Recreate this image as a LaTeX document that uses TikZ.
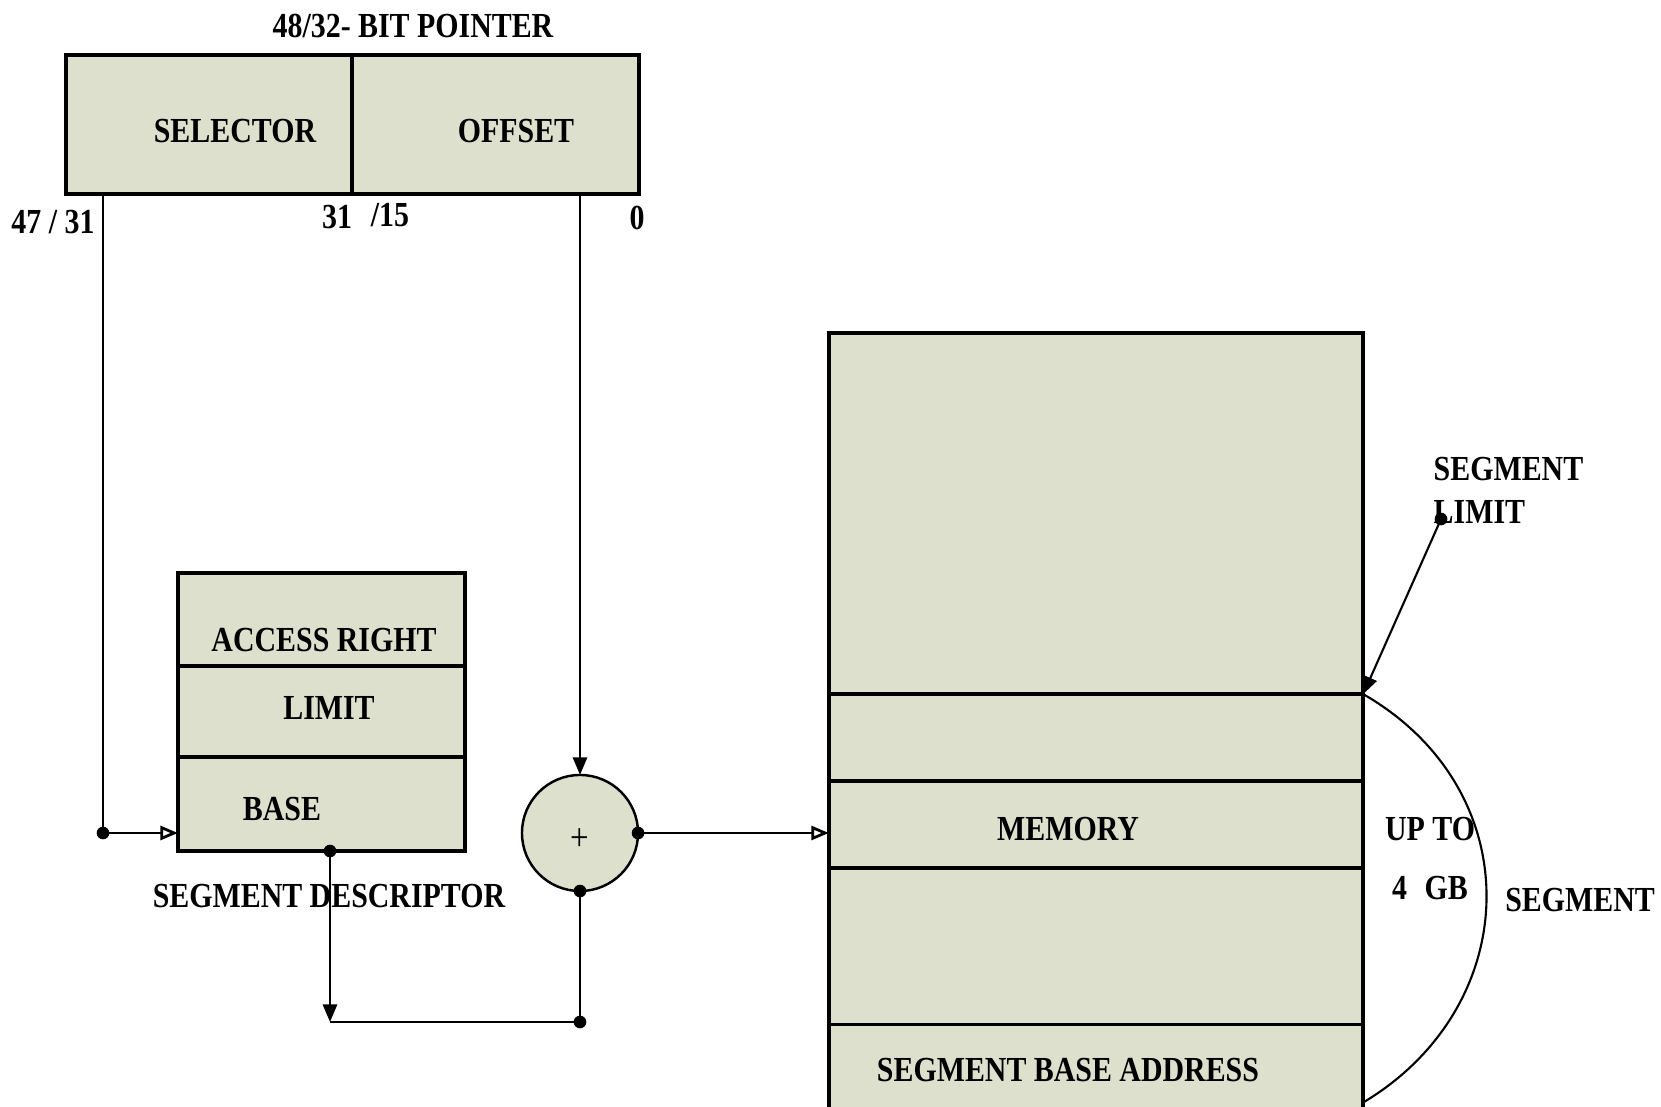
\documentclass[tikz,border=0pt]{standalone}
\usepackage{fontspec}
\setmainfont{Liberation Serif}[FakeStretch=0.85]
\usepackage{tikz}
\usetikzlibrary{arrows.meta, positioning}
\definecolor{boxfill}{RGB}{221,224,204}
\tikzstyle{field} = [rectangle, draw=black, fill=boxfill, line width=1pt,
 inner sep=0pt, outer sep=0pt, minimum width=2.87cm]
\tikzstyle{memfield} = [field, minimum width=5.34cm]
\tikzstyle{adder} = [circle, draw=black, fill=boxfill, line width=0.7pt,
 minimum size=1.16cm, inner sep=0pt, outer sep=0pt]
\tikzstyle{txt} = [font=\bfseries\fontsize{10}{12.2}\selectfont, inner sep=0pt]
\tikzstyle{wire} = [line width=0.8pt]
\tikzstyle{thinwire} = [line width=0.6pt]
\tikzstyle{arrow} = [wire, -{Triangle[length=5pt,width=4pt]}]
\tikzstyle{openarrow} = [wire, -{Triangle[open,length=5pt,width=4pt]}]
\tikzstyle{junction} = [circle, fill=black, inner sep=0pt, minimum size=3.6pt]

\begin{document}
\begin{tikzpicture}[x=0.01cm, y=-0.01cm]
\useasboundingbox (0,0) rectangle (1661,1107);
\clip (0,0) rectangle (1661,1107);

% pointer
\node(title) [txt] at (413,26) {48/32- BIT POINTER};
\node(selector) [field, minimum width=2.86cm, minimum height=1.39cm] at (209,124.5) {};
\node(offset) [field, minimum height=1.39cm] at (495.5,124.5) {};
\node(sel_lbl) [txt] at (235,131) {SELECTOR};
\node(off_lbl) [txt] at (516,131) {OFFSET};
\node(bit47) [txt] at (53,222) {47 / 31};
\node(bit31) [txt] at (337,217) {31};
\node(bit15) [txt] at (390,215) {/15};
\node(bit0) [txt] at (637,218) {0};

% segment descriptor
\node(access) [field, minimum height=0.93cm] at (321.5,619.5) {};
\node(limit) [field, minimum height=0.91cm, below=0pt of access] {};
\node(base) [field, minimum height=0.94cm, below=0pt of limit] {};
\node(access_lbl) [txt] at (324,640) {ACCESS RIGHT};
\node(limit_lbl) [txt] at (329,708) {LIMIT};
\node(base_lbl) [txt] at (282,809) {BASE};
\node(desc_lbl) [txt] at (329,896) {SEGMENT DESCRIPTOR};

% adder
\node(adder) [adder] at (580,833) {};
\node(plus) [inner sep=0pt] at (580,840) {\fontsize{11}{11}\selectfont +};

% memory
\node(memtop) [memfield, minimum height=3.61cm] at (1096,513.5) {};
\node(memrow1) [memfield, minimum height=0.87cm, below=0pt of memtop] {};
\node(memrow2) [memfield, minimum height=0.87cm, below=0pt of memrow1] {};
\node(memrow3) [memfield, minimum height=1.56cm, below=0pt of memrow2] {};
\node(membase) [memfield, minimum height=1.40cm, below=0pt of memrow3] {};
\node(mem_lbl) [txt] at (1068,829) {MEMORY};
\node(membase_lbl) [txt] at (1068,1070) {SEGMENT BASE ADDRESS};
\node(limit_txt) [txt, align=left, anchor=north west] at (1433,457) {SEGMENT\\LIMIT};
\node(upto) [txt] at (1430,829) {UP TO};
\node(gb) [txt] at (1430,888) {4\enspace GB};
\node(seg_lbl) [txt] at (1580,900) {SEGMENT};

\coordinate(sel_tap) at (103,194);
\coordinate(sel_turn) at (103,833);
\coordinate(base_tap) at (330,851);
\coordinate(base_turn) at (330,1022);
\coordinate(lim_tap) at (1441,519);
\coordinate(seg_end) at (1364,1102);

\draw[openarrow] (sel_tap) |- (sel_turn -| base.west);
\draw[arrow] (adder.north |- offset.south) -- (adder.north);
\draw[arrow] (base_tap) -- (base_turn);
\draw[wire] (base_turn) -| (adder.south);
\draw[openarrow] (adder.east) -- (adder.east -| memrow2.west);
\draw[arrow, thinwire] (lim_tap) -- (memrow1.north east);
\draw[thinwire] (memrow1.north east) .. controls (1530,790) and (1525,1005) .. (seg_end);

\node[junction] at (sel_turn) {};
\node[junction] at (base_tap) {};
\node[junction] at (adder.south |- base_turn) {};
\node[junction] at (adder.south) {};
\node[junction] at (adder.east) {};
\node[junction] at (lim_tap) {};
\end{tikzpicture}
\end{document}
